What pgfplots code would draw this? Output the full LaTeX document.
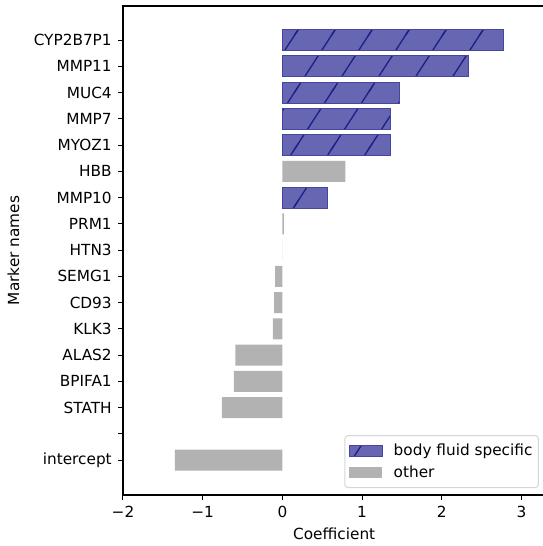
\documentclass[border=0pt]{standalone}
\usepackage{pgfplots}
\pgfplotsset{compat=1.18}
\usepackage{fontspec}
\setmainfont{DejaVu Sans}
\usetikzlibrary{patterns}
\definecolor{bfs}{RGB}{102,102,179}
\definecolor{bfsedge}{RGB}{70,70,160}
\definecolor{hatchc}{RGB}{30,30,135}
\definecolor{oth}{RGB}{178,178,178}
\definecolor{legedge}{RGB}{214,214,214}

\pgfdeclarepatternformonly{slanthatch}{\pgfpoint{-3pt}{-3pt}}{\pgfpoint{40pt}{60pt}}{\pgfpoint{37pt}{57pt}}{%
  \pgfsetlinewidth{1.3pt}%
  \pgfpathmoveto{\pgfpoint{-2pt}{-3.08pt}}%
  \pgfpathlineto{\pgfpoint{39pt}{60.08pt}}%
  \pgfusepath{stroke}%
}

\pgfplotstableread{
y x
16 2.77
15 2.34
14 1.47
13 1.36
12 1.35
10 0.57
}\bfsdata

\pgfplotstableread{
y x
11 0.79
9 0.02
8 0.0
7 -0.09
6 -0.105
5 -0.12
4 -0.59
3 -0.61
2 -0.76
0 -1.35
}\othdata

\begin{document}
\fontsize{15.3}{18}\selectfont
\begin{tikzpicture}
\begin{axis}[
  name=ax,
  scale only axis, width=422.4pt, height=489pt,
  xmin=-2, xmax=3.3, ymin=-1.33, ymax=17.3,
  xbar, bar width=0.8, bar shift=0pt,
  xtick={-2,-1,0,1,2,3},
  xticklabels={−2,−1,0,1,2,3},
  ytick={0,1,2,3,4,5,6,7,8,9,10,11,12,13,14,15,16},
  yticklabels={intercept,,STATH,BPIFA1,ALAS2,KLK3,CD93,SEMG1,HTN3,PRM1,MMP10,HBB,MYOZ1,MMP7,MUC4,MMP11,CYP2B7P1},
  tick align=outside, xtick pos=lower, ytick pos=left,
  major tick length=5pt,
  every tick/.style={black, line width=1pt},
  axis line style={line width=1.1pt},
  tick label style={font=\fontsize{15.3}{18}\selectfont},
  xticklabel style={yshift=-1pt},
  yticklabel style={xshift=-1pt},
  label style={font=\fontsize{15.3}{18}\selectfont},
  xlabel={Coefficient},
  ylabel={Marker names},
  ylabel style={yshift=4pt},
  legend cell align=left,
  legend style={at={(1,0)}, anchor=south east, xshift=-6.5pt, yshift=7pt,
    draw=legedge, rounded corners=3pt, line width=1pt,
    font=\fontsize{15.3}{18}\selectfont, row sep=4pt, inner xsep=4pt, inner ysep=6pt,
    /tikz/every odd column/.append style={column sep=9pt}},
  legend image code/.code={\path[#1, sharp corners] (0pt,-5.5pt) rectangle (33pt,5.5pt);},
]
\addplot[fill=bfs, draw=bfsedge, line width=0.8pt,
  postaction={pattern=slanthatch, pattern color=hatchc}]
  table[x=x, y=y] {\bfsdata};
\addlegendentry{body fluid specific}
\addplot[fill=oth, draw=none] table[x=x, y=y] {\othdata};
\addlegendentry{other}
\end{axis}
\pgfresetboundingbox
\path[use as bounding box] ([xshift=-123pt, yshift=-51pt]ax.south west) rectangle ([xshift=420pt, yshift=495pt]ax.south west);
\end{tikzpicture}
\end{document}
